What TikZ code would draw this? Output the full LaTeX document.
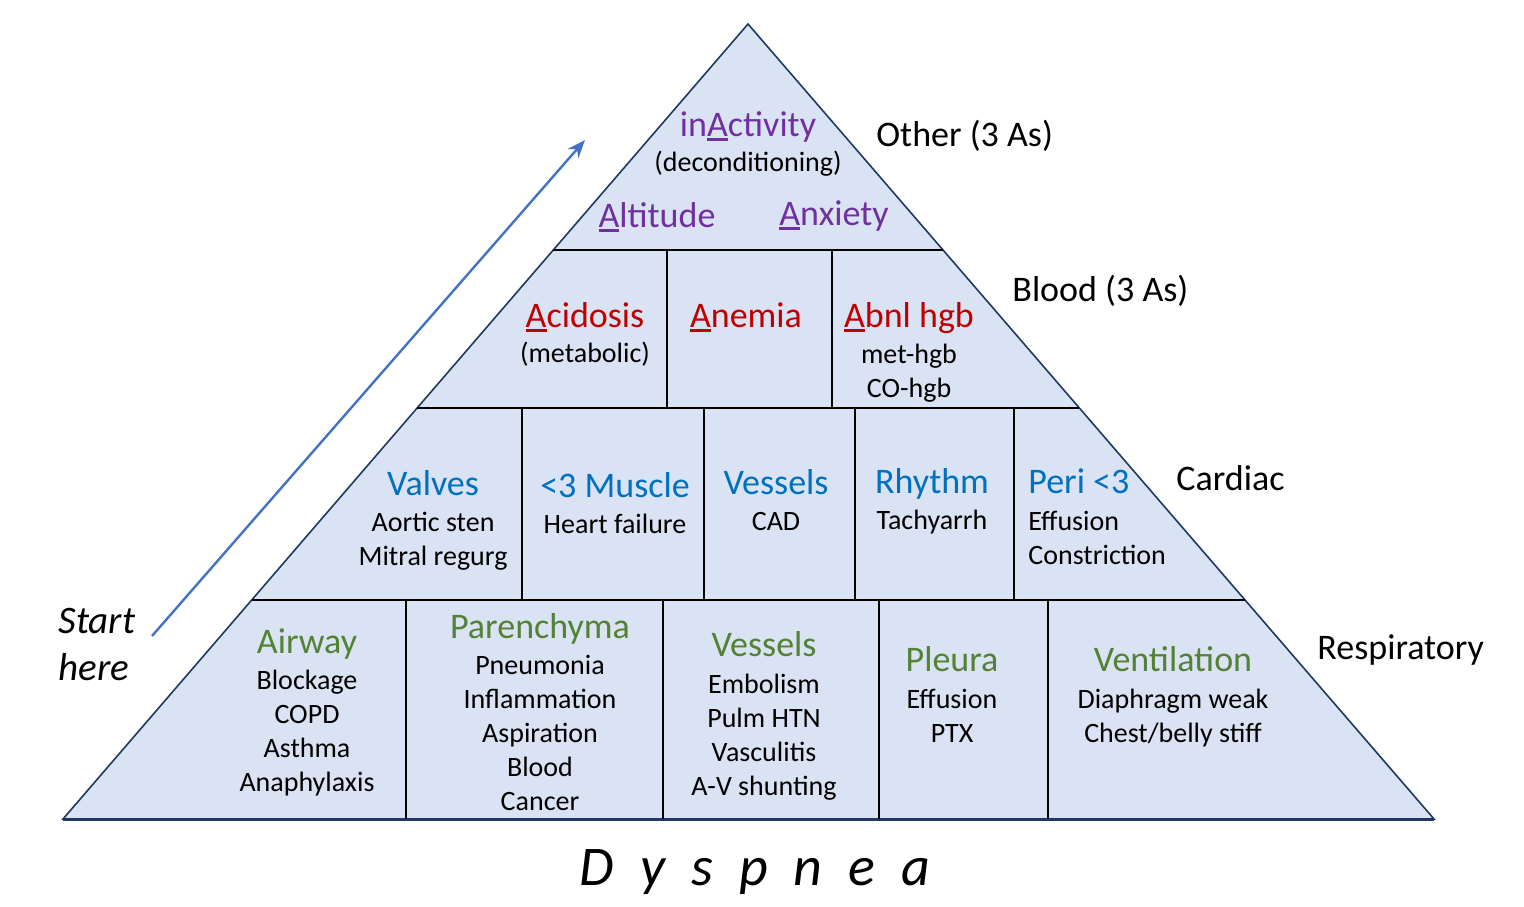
\documentclass[tikz,border=0pt]{standalone}
\usepackage{fontspec}
\setmainfont{Carlito}
\usetikzlibrary{calc,arrows.meta}
\definecolor{pyrfill}{HTML}{DAE3F3}
\definecolor{navy}{HTML}{1F3864}
\definecolor{cpurple}{HTML}{7030A0}
\definecolor{cred}{HTML}{C00000}
\definecolor{cblue}{HTML}{0070C0}
\definecolor{cgreen}{HTML}{548235}
\definecolor{carrow}{HTML}{4472C4}
\lineskiplimit=-100pt
\newcommand\undA[1]{\setbox0=\hbox{#1}\rlap{\rule[-2.4pt]{\wd0}{1.3pt}}#1}
\tikzset{
  pyr/.style={fill=pyrfill, draw=navy, line width=0.8pt, line join=miter},
  pbase/.style={draw=navy, line width=1.5pt},
  divl/.style={line width=1.4pt, draw=black},
  head/.style={font=\fontsize{18}{22}\selectfont, inner sep=0pt, anchor=base},
  body/.style={font=\fontsize{14}{17}\selectfont, inner sep=0pt, align=center, anchor=north},
  bodyl/.style={body, align=left, anchor=north west},
  side/.style={font=\fontsize{18}{22}\selectfont, inner sep=0pt, anchor=base west},
  arr/.style={draw=carrow, line width=1.2pt, -{Stealth[length=9pt,width=7pt]}},
}
\newcommand\pcell[7]{%
  \node[head, text=#4] (#1h) at (#2,{#3+11}) {#5};
  \node[body] (#1b) at (#2,{#6-14.8}) {\strut#7};}
\begin{document}
\begin{tikzpicture}[x=0.5pt,y=-0.5pt]
\useasboundingbox (0,0) rectangle (1524,906);
% pyramid
\coordinate (apex) at (748,24);
\coordinate (bl) at (63,819);
\coordinate (br) at (1434,819);
\filldraw[pyr] (apex) -- (bl) -- (br) -- cycle;
\draw[pbase] (bl) -- (br);
% level lines
\coordinate (l1a) at ($(apex)!0.2843!(bl)$);
\coordinate (l1b) at ($(apex)!0.2843!(br)$);
\coordinate (l2a) at ($(apex)!0.4830!(bl)$);
\coordinate (l2b) at ($(apex)!0.4830!(br)$);
\coordinate (l3a) at ($(apex)!0.7245!(bl)$);
\coordinate (l3b) at ($(apex)!0.7245!(br)$);
\draw[divl] (l1a) -- (l1b);
\draw[divl] (l2a) -- (l2b);
\draw[divl] (l3a) -- (l3b);
% vertical dividers
\foreach \x in {667,832} \draw[divl] (\x,250) -- (\x,408);
\foreach \x in {522,704,855,1014} \draw[divl] (\x,408) -- (\x,600);
\foreach \x in {406,663,879,1048} \draw[divl] (\x,600) -- (\x,819);
% Other
\node[head, text=cpurple] (inact) at (748,136) {in\undA{A}ctivity};
\node[body] (decond) at (748,{162-14.8}) {\strut(deconditioning)};
\node[head, text=cpurple] (alt) at (657,227) {\undA{A}ltitude};
\node[head, text=cpurple] (anx) at (834,225) {\undA{A}nxiety};
% Blood
\pcell{acid}{585}{316}{cred}{\undA{A}cidosis}{353}{(metabolic)}
\node[head, text=cred] (anem) at (746,327) {\undA{A}nemia};
\pcell{abnl}{909}{316}{cred}{\undA{A}bnl hgb}{354}{met-hgb\\CO-hgb}
% Cardiac
\pcell{valv}{433}{484}{cblue}{Valves}{522}{Aortic sten\\Mitral regurg}
\pcell{musc}{615}{486}{cblue}{<3 Muscle}{524}{Heart failure}
\pcell{cves}{776}{483}{cblue}{Vessels}{521}{CAD}
\pcell{rhy}{932}{482}{cblue}{Rhythm}{520}{Tachyarrh}
\node[head, anchor=base west, text=cblue] (perih) at (1028,493) {Peri <3};
\node[bodyl] (perib) at (1028,{521-14.8}) {\strut Effusion\\Constriction};
% Respiratory
\pcell{airw}{307}{642}{cgreen}{Airway}{680}{Blockage\\COPD\\Asthma\\Anaphylaxis}
\pcell{par}{540}{627}{cgreen}{Parenchyma}{665}{Pneumonia\\Inflammation\\Aspiration\\Blood\\Cancer}
\pcell{rves}{764}{645}{cgreen}{Vessels}{684}{Embolism\\Pulm HTN\\Vasculitis\\A-V shunting}
\pcell{pleu}{952}{660}{cgreen}{Pleura}{699}{Effusion\\PTX}
\pcell{vent}{1173}{660}{cgreen}{Ventilation}{699}{Diaphragm weak\\Chest/belly stiff}
% side labels
\node[side] (other) at (876,146) {Other (3 As)};
\node[side] (blood) at (1012,301) {Blood (3 As)};
\node[side] (card) at (1176,490) {Cardiac};
\node[side] (resp) at (1317,659) {Respiratory};
% start here
\node[font=\fontsize{19.5}{23.5}\selectfont\itshape, inner sep=0pt, align=left, anchor=north west] (start) at (58,600) {\strut Start\\here};
\coordinate (as) at (152,636);
\coordinate (ae) at (585,140);
\draw[arr] (as) -- (ae);
% title
\node[font=\fontsize{28}{34}\selectfont\itshape, inner sep=0pt, anchor=base] (dysp) at (755,885) {D\hspace{13pt}y\hspace{13pt}s\hspace{13pt}p\hspace{13pt}n\hspace{13pt}e\hspace{13pt}a};
\end{tikzpicture}
\end{document}
